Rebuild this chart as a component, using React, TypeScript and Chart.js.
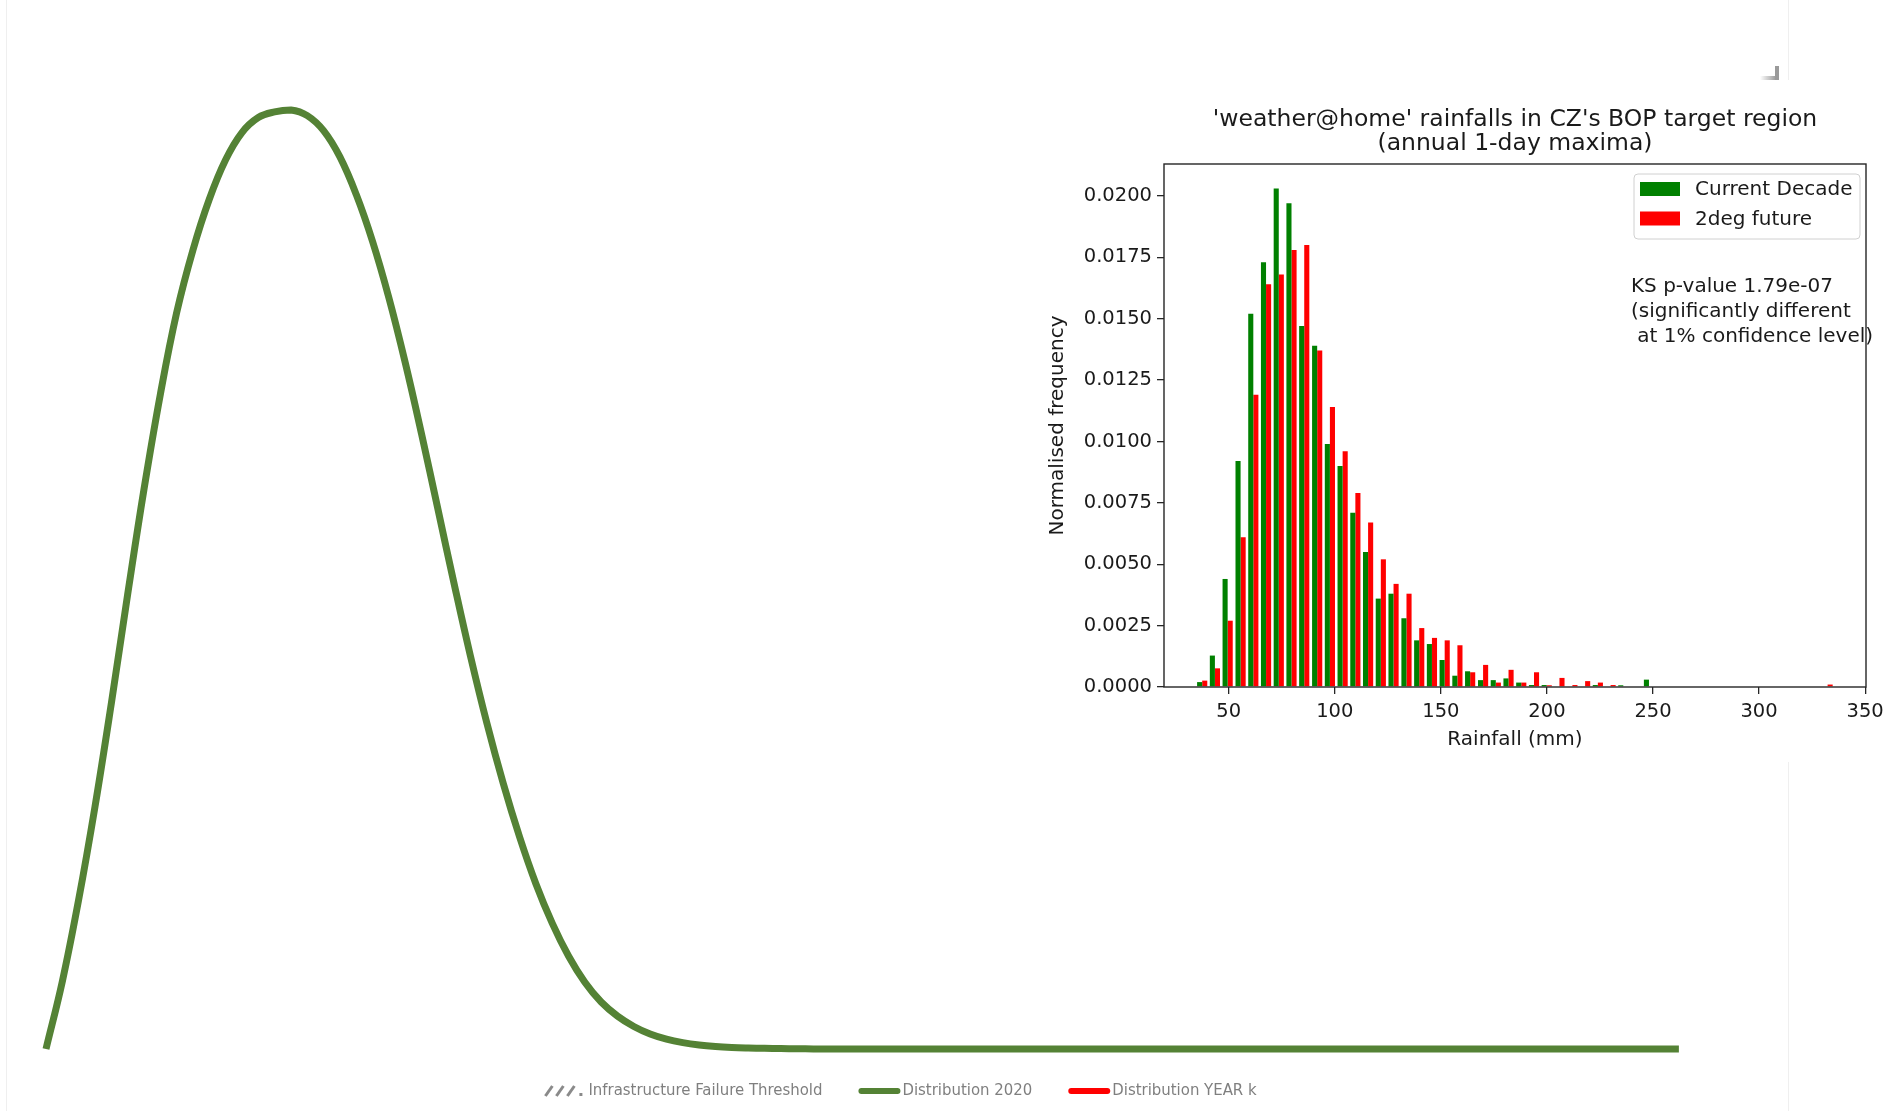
import React, { useEffect, useRef } from 'react';
import { Chart, registerables } from 'chart.js';

Chart.register(...registerables);

// ---------------- Histogram data (weather@home rainfalls) ----------------
const binCenters = [
  37.5, 43.5, 49.5, 55.6, 61.6, 67.6, 73.6, 79.6, 85.6, 91.7,
  97.7, 103.7, 109.7, 115.7, 121.7, 127.7, 133.8, 139.8, 145.8, 151.8,
  157.8, 163.8, 169.9, 175.9, 181.9, 187.9, 193.9, 199.9, 205.9, 212.0,
  218.0, 224.0, 230.0, 236.0, 242.0, 248.1, 254.1, 260.1, 266.1, 272.1,
  278.1, 284.2, 290.2, 296.2, 302.2, 308.2, 314.2, 320.3, 326.3, 332.3,
];
const currentDecade = [
  0.0002, 0.00128, 0.0044, 0.0092, 0.0152, 0.0173, 0.0203, 0.0197, 0.0147, 0.0139,
  0.0099, 0.0090, 0.0071, 0.0055, 0.0036, 0.0038, 0.0028, 0.0019, 0.00175, 0.0011,
  0.00046, 0.00064, 0.00028, 0.00028, 0.00035, 0.00018, 0.00008, 0.00008, 0, 0,
  0, 0.00008, 0, 0.00007, 0, 0.0003, 0, 0, 0, 0,
  0, 0, 0, 0, 0, 0, 0, 0, 0, 0,
];
const future2deg = [
  0.00026, 0.00076, 0.0027, 0.0061, 0.0119, 0.0164, 0.0168, 0.0178, 0.0180, 0.0137,
  0.0114, 0.0096, 0.0079, 0.0067, 0.0052, 0.0042, 0.0038, 0.0024, 0.0020, 0.0019,
  0.0017, 0.0006, 0.0009, 0.00018, 0.0007, 0.00018, 0.0006, 0.00007, 0.00037, 0.00008,
  0.00024, 0.00018, 0.00008, 0, 0, 0, 0, 0, 0, 0,
  0, 0, 0, 0, 0, 0, 0, 0, 0, 0.0001,
];
const histSeriesLabels = ['Current Decade', '2deg future'];
const histTitle = ["'weather@home' rainfalls in CZ's BOP target region", '(annual 1-day maxima)'];
const ksLines = ['KS p-value 1.79e-07', '(significantly different', ' at 1% confidence level)'];
const xAxisTitle = 'Rainfall (mm)';
const yAxisTitle = 'Normalised frequency';

// ---------------- Background distribution curve ----------------
const curveX = [
  0, 1, 2, 3, 4, 5, 6, 7, 8, 9,
  10, 11, 12, 13, 14, 15, 16, 17, 18, 19,
  20, 21, 22, 23, 24, 25, 26, 27, 28, 29,
  30, 31, 32, 33, 34, 35, 36, 37, 38, 39,
  40, 41, 42, 43, 44, 45, 46, 47, 48,
  60, 80, 100,
];
const curve2020 = [
  0, 0.072, 0.159, 0.258, 0.368, 0.484, 0.596, 0.697, 0.784, 0.851,
  0.905, 0.947, 0.976, 0.992, 0.998, 1.0, 0.994, 0.978, 0.950, 0.910,
  0.860, 0.800, 0.731, 0.655, 0.575, 0.495, 0.418, 0.347, 0.283, 0.226,
  0.176, 0.134, 0.099, 0.071, 0.050, 0.035, 0.024, 0.016, 0.0105, 0.0068,
  0.0043, 0.0027, 0.0017, 0.0011, 0.0007, 0.0004, 0.0002, 0.0001, 0,
  0, 0, 0,
];
const bigLegendLabels = ['Infrastructure Failure Threshold', 'Distribution 2020', 'Distribution YEAR k'];

const MPL_FONT = '"DejaVu Sans", sans-serif';
const XL_FONT = '"Liberation Sans Narrow", "DejaVu Sans Condensed", "Roboto", sans-serif';

const histFrame = {
  id: 'histFrame',
  afterDatasetsDraw(chart: any) {
    const { ctx, chartArea: a } = chart;
    ctx.save();
    ctx.strokeStyle = '#262626';
    ctx.lineWidth = 1.4;
    ctx.strokeRect(a.left, a.top, a.right - a.left, a.bottom - a.top);
    ctx.restore();
  },
};

const histLegend = {
  id: 'histLegend',
  afterDraw(chart: any) {
    const { ctx, chartArea: a } = chart;
    const w = 226;
    const h = 65;
    const x = a.right - 6 - w;
    const y = a.top + 10;
    ctx.save();
    ctx.beginPath();
    const r = 4;
    ctx.moveTo(x + r, y);
    ctx.lineTo(x + w - r, y);
    ctx.quadraticCurveTo(x + w, y, x + w, y + r);
    ctx.lineTo(x + w, y + h - r);
    ctx.quadraticCurveTo(x + w, y + h, x + w - r, y + h);
    ctx.lineTo(x + r, y + h);
    ctx.quadraticCurveTo(x, y + h, x, y + h - r);
    ctx.lineTo(x, y + r);
    ctx.quadraticCurveTo(x, y, x + r, y);
    ctx.closePath();
    ctx.fillStyle = 'rgba(255,255,255,0.85)';
    ctx.fill();
    ctx.strokeStyle = '#d0d0d0';
    ctx.lineWidth = 1;
    ctx.stroke();
    ctx.font = `20px ${MPL_FONT}`;
    ctx.textBaseline = 'middle';
    chart.data.datasets.forEach((ds: any, i: number) => {
      const cy = y + 15 + i * 29.5;
      ctx.fillStyle = ds.backgroundColor;
      ctx.fillRect(x + 6, cy - 7, 40, 14);
      ctx.fillStyle = '#1a1a1a';
      ctx.fillText(ds.label, x + 61, cy + 1);
    });
    ctx.restore();
  },
};

const ksText = {
  id: 'ksText',
  afterDraw(chart: any) {
    const { ctx, chartArea: a } = chart;
    ctx.save();
    ctx.font = `20px ${MPL_FONT}`;
    ctx.fillStyle = '#1a1a1a';
    ctx.textBaseline = 'middle';
    ksLines.forEach((line, i) => {
      ctx.fillText(line, a.left + 467, a.top + 123 + i * 25);
    });
    ctx.restore();
  },
};

const bigLegend = {
  id: 'bigLegend',
  afterDraw(chart: any) {
    const { ctx, chartArea: a } = chart;
    ctx.save();
    ctx.font = `16.6px ${XL_FONT}`;
    ctx.textBaseline = 'middle';
    const markerW = 42;
    const gapText = 3;
    const gapItem = 35;
    const widths = bigLegendLabels.map((t) => markerW + gapText + ctx.measureText(t).width);
    const total = widths.reduce((s, v) => s + v, 0) + gapItem * (widths.length - 1);
    let x = (a.left + a.right) / 2 - total / 2;
    const cy = a.bottom + 42;
    bigLegendLabels.forEach((label, i) => {
      const ds = chart.data.datasets[i];
      if (i === 0) {
        ctx.strokeStyle = '#8a8a8a';
        ctx.lineWidth = 3;
        for (let k = 0; k < 3; k++) {
          ctx.beginPath();
          ctx.moveTo(x + 2 + k * 11, cy + 5);
          ctx.lineTo(x + 9 + k * 11, cy - 5);
          ctx.stroke();
        }
        ctx.fillStyle = '#8a8a8a';
        ctx.fillRect(x + 36, cy + 2, 3, 3);
      } else {
        ctx.strokeStyle = ds.borderColor;
        ctx.lineWidth = 6;
        ctx.lineCap = 'round';
        ctx.beginPath();
        ctx.moveTo(x + 4, cy);
        ctx.lineTo(x + markerW - 2, cy);
        ctx.stroke();
      }
      ctx.fillStyle = '#7f7f7f';
      ctx.fillText(label, x + markerW + gapText, cy);
      x += widths[i] + gapItem;
    });
    ctx.restore();
  },
};

export default function App() {
  const bigRef = useRef<HTMLCanvasElement | null>(null);
  const histRef = useRef<HTMLCanvasElement | null>(null);

  useEffect(() => {
    const big = new Chart(bigRef.current as HTMLCanvasElement, {
      type: 'line',
      data: {
        datasets: [
          { label: bigLegendLabels[0], data: [], borderColor: '#8a8a8a', backgroundColor: '#8a8a8a' },
          {
            label: bigLegendLabels[1],
            data: curveX.map((x, i) => ({ x, y: curve2020[i] })),
            borderColor: '#548235',
            backgroundColor: '#548235',
            borderWidth: 7,
            pointRadius: 0,
            tension: 0.4,
            clip: false,
          },
          { label: bigLegendLabels[2], data: [], borderColor: '#ff0000', backgroundColor: '#ff0000' },
        ],
      },
      options: {
        animation: false,
        responsive: false,
        layout: { padding: { left: 46, right: 139, top: 110, bottom: 62 } },
        scales: {
          x: { type: 'linear', min: 0, max: 104.6, display: false },
          y: { type: 'linear', min: 0, max: 1, display: false },
        },
        plugins: { legend: { display: false }, tooltip: { enabled: false } },
      },
      plugins: [bigLegend],
    });

    const hist = new Chart(histRef.current as HTMLCanvasElement, {
      type: 'bar',
      data: {
        datasets: [
          {
            label: histSeriesLabels[0],
            data: binCenters.map((x, i) => ({ x, y: currentDecade[i] })),
            backgroundColor: '#008000',
            borderWidth: 0,
            barPercentage: 1,
            categoryPercentage: 0.8,
          },
          {
            label: histSeriesLabels[1],
            data: binCenters.map((x, i) => ({ x, y: future2deg[i] })),
            backgroundColor: '#ff0000',
            borderWidth: 0,
            barPercentage: 1,
            categoryPercentage: 0.8,
          },
        ],
      },
      options: {
        animation: false,
        responsive: false,
        layout: { padding: { left: 0, right: 27, top: 0, bottom: 0 } },
        scales: {
          x: {
            type: 'linear',
            min: 19.5,
            max: 350.4,
            offset: false,
            grid: { offset: false, drawOnChartArea: false, drawTicks: true, tickLength: 7, color: '#262626', lineWidth: 1.3 },
            border: { display: false },
            ticks: {
              stepSize: 50,
              includeBounds: false,
              maxRotation: 0,
              padding: 6,
              color: '#1a1a1a',
              font: { family: MPL_FONT, size: 19.5 },
            },
            title: {
              display: true,
              text: xAxisTitle,
              color: '#1a1a1a',
              font: { family: MPL_FONT, size: 20, lineHeight: 1.2 },
              padding: { top: 0, bottom: 10 },
            },
            afterFit: (s: any) => {
              s.height = 75;
            },
          },
          y: {
            type: 'linear',
            min: 0,
            max: 0.0213,
            grid: { drawOnChartArea: false, drawTicks: true, tickLength: 7, color: '#262626', lineWidth: 1.3 },
            border: { display: false },
            ticks: {
              stepSize: 0.0025,
              includeBounds: false,
              padding: 5,
              color: '#1a1a1a',
              font: { family: MPL_FONT, size: 19.5 },
              callback: (v: any) => Number(v).toFixed(4),
            },
            title: {
              display: true,
              text: yAxisTitle,
              color: '#1a1a1a',
              font: { family: MPL_FONT, size: 20, lineHeight: 1.2 },
              padding: { top: 16, bottom: 0 },
            },
            afterFit: (s: any) => {
              s.width = 134;
            },
          },
        },
        plugins: {
          legend: { display: false },
          tooltip: { enabled: false },
          title: {
            display: true,
            fullSize: false,
            text: histTitle,
            color: '#1a1a1a',
            font: { family: MPL_FONT, size: 23.5, lineHeight: 1.0, weight: 'normal' },
            padding: { top: 28.5, bottom: 8.5 },
          },
        },
      },
      plugins: [histFrame, histLegend, ksText],
    });

    return () => {
      big.destroy();
      hist.destroy();
    };
  }, []);

  return (
    <div style={{ position: 'absolute', left: 0, top: 0, width: 1893, height: 1111, overflow: 'hidden', background: '#ffffff' }}>
      <div
        style={{
          position: 'absolute',
          left: 6,
          top: 0,
          width: 1783,
          height: 1111,
          boxSizing: 'border-box',
          borderLeft: '1px solid #efefef',
          borderRight: '1px solid #efefef',
        }}
      />
      <canvas ref={bigRef} width={1893} height={1111} style={{ position: 'absolute', left: 0, top: 0, width: 1893, height: 1111 }} />
      <div style={{ position: 'absolute', left: 1030, top: 80, width: 863, height: 682, background: '#ffffff' }}>
        <canvas ref={histRef} width={863} height={682} style={{ width: 863, height: 682, display: 'block' }} />
      </div>
      <div style={{ position: 'absolute', left: 1775, top: 66, width: 4, height: 14, background: '#9a9a9a' }} />
      <div
        style={{
          position: 'absolute',
          left: 1760,
          top: 76,
          width: 16,
          height: 4,
          background: 'linear-gradient(to right, rgba(154,154,154,0), #9a9a9a)',
        }}
      />
    </div>
  );
}
